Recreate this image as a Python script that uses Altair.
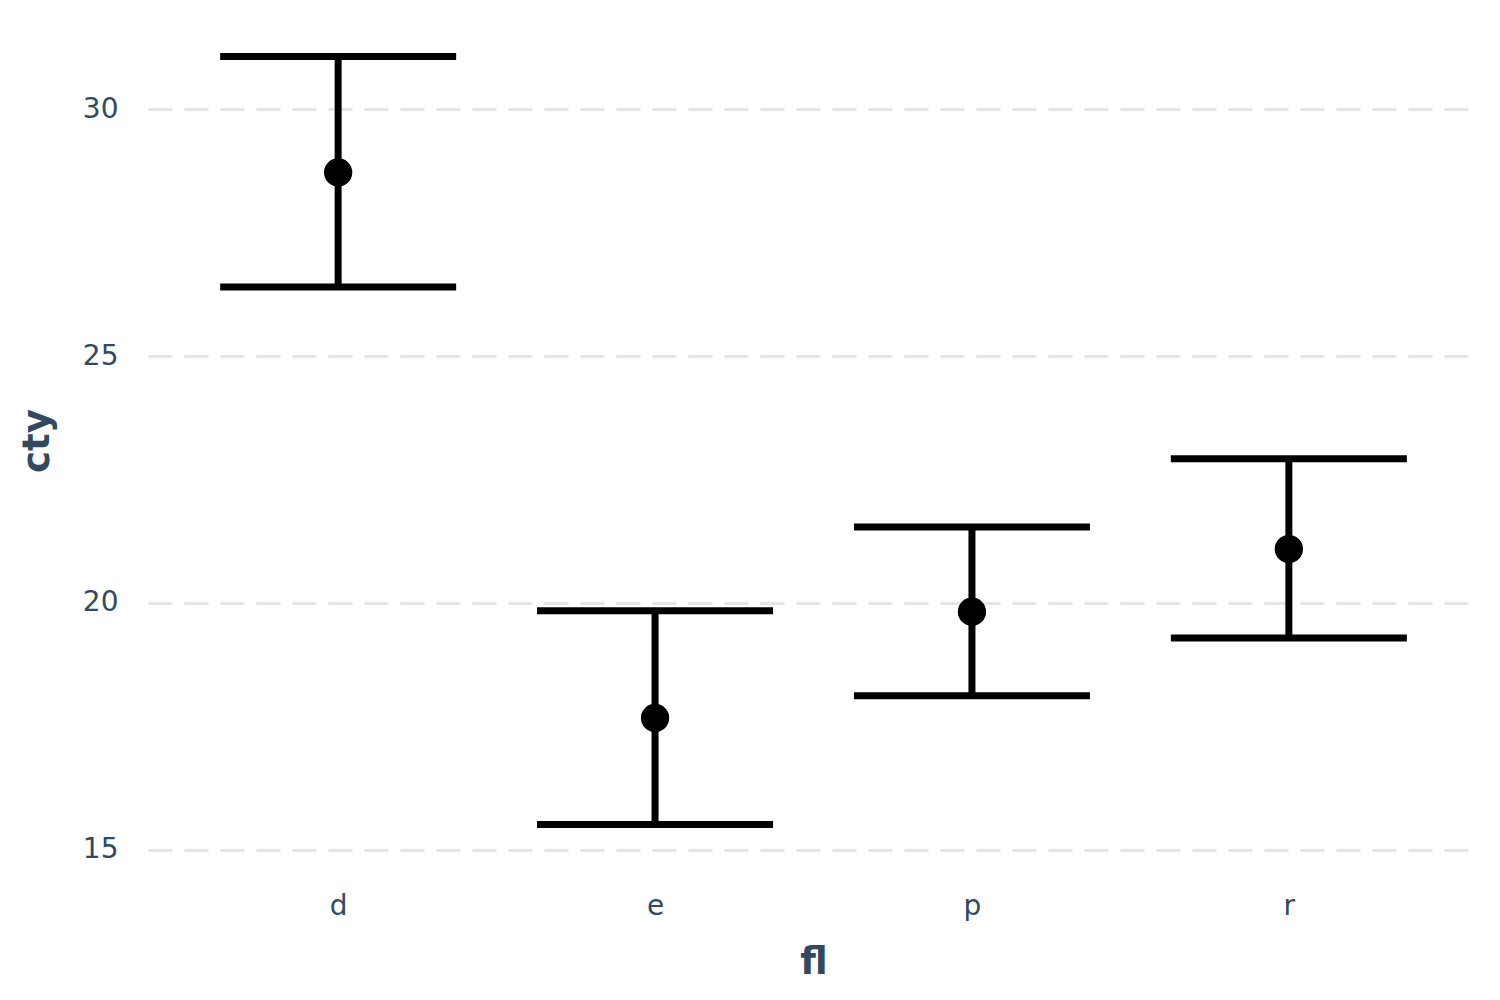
import altair as alt
import pandas as pd

fl = ["d", "e", "p", "r"]
mean_cty = [28.72, 17.67, 19.82, 21.09]
lower_cty = [26.40, 15.51, 18.12, 19.29]
upper_cty = [31.07, 19.84, 21.54, 22.92]

df = pd.DataFrame({"fl": fl, "cty": mean_cty, "lo": lower_cty, "hi": upper_cty})

TXT = "#34495E"
xscale = alt.Scale(type="point", domain=fl, padding=0.6)
yscale = alt.Scale(domain=[14.73, 31.85], nice=False, zero=False)

x = alt.X("fl:N", scale=xscale, title="fl",
          axis=alt.Axis(labelAngle=0, grid=False, ticks=False, domain=False,
                        labelFontSize=28, labelColor=TXT, labelPadding=29,
                        labelFont="DejaVu Sans",
                        titleFontSize=37, titleFontWeight="bold", titleColor=TXT,
                        titleFont="DejaVu Sans", titlePadding=24))
y_axis = alt.Axis(values=[15, 20, 25, 30], grid=True, gridDash=[24, 12], gridColor="#E5E5E5",
                  gridWidth=3, ticks=False, domain=False, labelFontSize=28,
                  labelColor=TXT, labelPadding=30, labelFont="DejaVu Sans",
                  titleFontSize=37, titleFontWeight="bold", titleColor=TXT,
                  titleFont="DejaVu Sans", titlePadding=26)

base = alt.Chart(df)

rule = base.mark_rule(color="black", strokeWidth=7).encode(
    x=x,
    y=alt.Y("lo:Q", scale=yscale, axis=y_axis, title="cty"),
    y2="hi:Q",
)
cap_hi = base.mark_tick(color="black", thickness=7, size=236, orient="horizontal", opacity=1).encode(
    x=alt.X("fl:N", scale=xscale),
    y=alt.Y("hi:Q", scale=yscale),
)
cap_lo = base.mark_tick(color="black", thickness=7, size=236, orient="horizontal", opacity=1).encode(
    x=alt.X("fl:N", scale=xscale),
    y=alt.Y("lo:Q", scale=yscale),
)
pts = base.mark_point(filled=True, color="black", size=800, opacity=1, shape="circle").encode(
    x=alt.X("fl:N", scale=xscale),
    y=alt.Y("cty:Q", scale=yscale),
)

chart = alt.layer(rule, cap_hi, cap_lo, pts).properties(
    width=1331, height=845,
    padding={"left": 140, "top": 10, "right": 10, "bottom": 130},
    autosize=alt.AutoSizeParams(type="none"),
    background="white",
).configure_view(strokeWidth=0, stroke=None)

chart.save("out.html", embed_options={"renderer": "svg", "actions": False})
